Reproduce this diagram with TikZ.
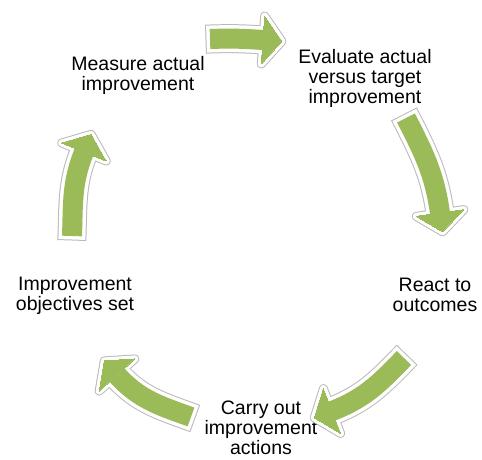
\documentclass[tikz,border=0pt]{standalone}
\usepackage{fontspec}
\setmainfont{Liberation Sans}
\usetikzlibrary{calc}
\definecolor{cyclegreen}{RGB}{155,187,89}
\definecolor{cycleedge}{RGB}{185,185,185}

\begin{document}
\begin{tikzpicture}[x=1pt,y=1pt,
    stage/.style={align=center,inner sep=0pt,font=\fontsize{19.5}{20}\selectfont}]
    \useasboundingbox (0,0) rectangle (482,-459);
    % Stage labels
    \node[stage] (measure) at (138,-75) {Measure actual\\improvement};
    \node[stage] (evaluate) at (365,-78) {Evaluate actual\\versus target\\improvement};
    \node[stage] (react) at (435,-295) {React to\\outcomes};
    \node[stage] (carry) at (261,-428) {Carry out\\improvement\\actions};
    \node[stage] (objectives) at (75,-296) {Improvement\\objectives set};
    % Arrow ends (tail, head base)
    \coordinate (t1) at (210,-39);  \coordinate (b1) at (263,-40);
    \coordinate (t2) at (406,-118); \coordinate (b2) at (440,-213);
    \coordinate (t3) at (404,-358); \coordinate (b3) at (332,-411);
    \coordinate (t4) at (191,-417); \coordinate (b4) at (117,-375);
    \coordinate (t5) at (72,-236);  \coordinate (b5) at (84,-152);
    % Arrows: grey edge, white gap, green body
    \foreach \col/\ext in {cycleedge/4.5,white/3.5,cyclegreen/0} {
        \foreach \i/\o/\d in {1/2/-4,2/-63/-82,3/226/201,4/160/132,5/88/68} {
            \pgfmathsetmacro{\din}{\d+180}
            \draw[color=\col,line width=20pt+2*\ext pt,shorten <=-\ext pt] (t\i) to[out=\o,in=\din] (b\i);
            \filldraw[color=\col,line width=2*\ext pt,line join=round]
                ($(b\i)+(\d+90:24)$) -- ($(b\i)+(\d:19)$) -- ($(b\i)+(\d-90:24)$) -- cycle;
        }
    }
\end{tikzpicture}
\end{document}
